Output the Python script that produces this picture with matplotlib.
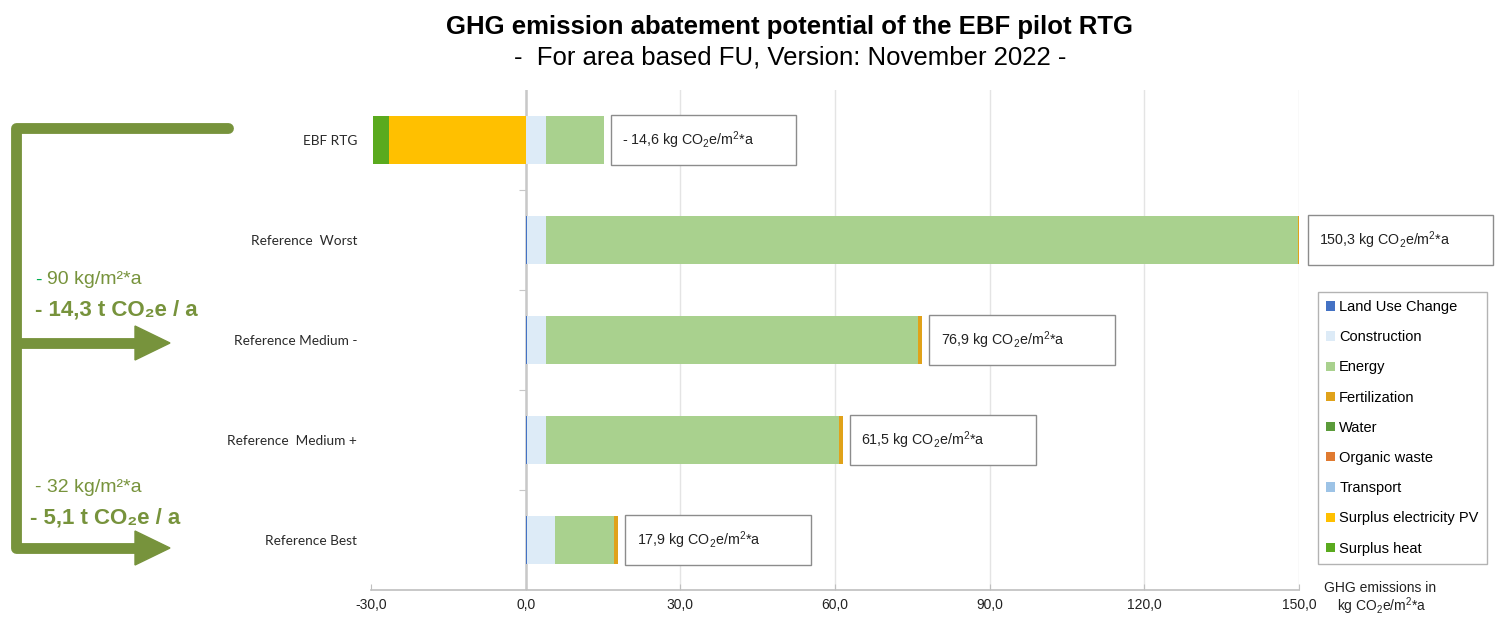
import matplotlib
matplotlib.use('Agg')
import matplotlib.pyplot as plt
from matplotlib.patches import Rectangle, Polygon
import numpy as np

plt.rcParams['font.family'] = ['Liberation Sans', 'DejaVu Sans']
plt.rcParams['mathtext.fontset'] = 'custom'
plt.rcParams['mathtext.rm'] = 'Liberation Sans'
plt.rcParams['mathtext.it'] = 'Liberation Sans'

# categories, top to bottom
categories = ["EBF RTG", "Reference  Worst", "Reference Medium -",
              "Reference  Medium +", "Reference Best"]

# emissions per source in kg CO2e/m2*a
land_use = [0.0, 0.3, 0.3, 0.3, 0.3]
construction = [3.9, 3.6, 3.6, 3.6, 5.4]
energy = [11.2, 145.9, 72.2, 56.8, 11.4]
fertilization = [0.0, 0.5, 0.8, 0.8, 0.8]
water = [0.0, 0.0, 0.0, 0.0, 0.0]
organic_waste = [0.0, 0.0, 0.0, 0.0, 0.0]
transport = [0.0, 0.0, 0.0, 0.0, 0.0]
surplus_pv = [-26.5, 0.0, 0.0, 0.0, 0.0]
surplus_heat = [-3.2, 0.0, 0.0, 0.0, 0.0]

x_ticks = [-30, 0, 30, 60, 90, 120, 150]

series = [
    ("Land Use Change", land_use, "#4472C4"),
    ("Construction", construction, "#DDEBF7"),
    ("Energy", energy, "#A9D18E"),
    ("Fertilization", fertilization, "#E0A21A"),
    ("Water", water, "#5B9B3A"),
    ("Organic waste", organic_waste, "#E07A30"),
    ("Transport", transport, "#9DC3E6"),
    ("Surplus electricity PV", surplus_pv, "#FFC000"),
    ("Surplus heat", surplus_heat, "#5AAA1E"),
]

W, H = 1499, 619
fig = plt.figure(figsize=(W / 100, H / 100), dpi=100)

# main chart area
ax = fig.add_axes([371 / W, 1 - 590 / H, 928 / W, 500 / H])
y = np.arange(len(categories))
pos_left = np.zeros(len(categories))
neg_left = np.zeros(len(categories))
for name, vals, col in series:
    vals = np.array(vals)
    left = np.where(vals >= 0, pos_left, neg_left)
    ax.barh(y, vals, left=left, height=0.48, color=col, label=name, zorder=3)
    pos_left += np.clip(vals, 0, None)
    neg_left += np.clip(vals, None, 0)

totals = pos_left + neg_left

ax.set_xlim(-30, 150)
ax.set_ylim(len(categories) - 0.5, -0.5)
ax.set_yticks(y)
ax.set_yticklabels(categories, family=['Lato', 'DejaVu Sans'], fontsize=9.8,
                   color='#2A2A2A')
ax.tick_params(axis='y', length=0, pad=10)
ax.set_xticks(x_ticks)
ax.set_xticklabels([f"{v:.1f}".replace('.', ',') for v in x_ticks],
                   fontsize=10, color='#222222')
ax.tick_params(axis='x', direction='in', length=4, color='#BFBFBF', pad=6)

for s in ['top', 'right', 'left']:
    ax.spines[s].set_visible(False)
ax.spines['bottom'].set_color('#BFBFBF')
ax.spines['bottom'].set_linewidth(1.2)

ax.grid(axis='x', color='#E4E4E4', lw=1, zorder=0)
ax.xaxis.get_gridlines()[0].set_visible(False)
ax.set_axisbelow(True)

# category axis at zero with separator ticks
ax.axvline(0, color='#C8C8C8', lw=1.8, zorder=2)
ax.hlines(y[:-1] + 0.5, -1.2, 0, color='#C8C8C8', lw=0.8, zorder=2)

# total value boxes
for yi, tot, pos in zip(y, totals, pos_left):
    x0 = pos + 1.4
    ax.add_patch(Rectangle((x0, yi - 0.25), 36, 0.5, facecolor='white',
                           edgecolor='#8C8C8C', lw=1, zorder=4, clip_on=False))
    txt = f"{abs(tot):.1f}".replace('.', ',')
    if tot < 0:
        txt = "- " + txt
    ax.text(x0 + 2.2, yi, txt + " kg CO$_2$e/m$^2$*a", va='center',
            ha='left', fontsize=10.3, color='#222222', zorder=5)

fig.legend(loc='upper left', bbox_to_anchor=(1318 / W, 1 - 292 / H),
           fontsize=10.5, frameon=True, fancybox=False, edgecolor='#A0A0A0',
           handlelength=0.6, handleheight=0.6, handletextpad=0.3,
           labelspacing=1.11, borderpad=0.55, borderaxespad=0)

fig.text(1380 / W, 1 - 588 / H, "GHG emissions in", ha='center',
         va='center', fontsize=10, color='#222222')
fig.text(1382 / W, 1 - 606 / H, "kg CO$_2$e/m$^2$*a", ha='center',
         va='center', fontsize=10, color='#222222')

fig.text(790 / W, 1 - 27 / H, "GHG emission abatement potential of the EBF pilot RTG",
         ha='center', va='center', fontsize=18.5, fontweight='bold')
fig.text(790 / W, 1 - 57 / H, "-  For area based FU, Version: November 2022 -",
         ha='center', va='center', fontsize=18.5)

# savings bracket on the left
ov = fig.add_axes([0, 0, 1, 1], zorder=-1)
ov.set_xlim(0, W)
ov.set_ylim(H, 0)
ov.axis('off')
olive = '#77933C'
ov.plot([228, 16, 16, 140], [128, 128, 548, 548], color=olive, lw=7.8,
        solid_capstyle='round', solid_joinstyle='round')
ov.plot([16, 140], [343, 343], color=olive, lw=7.8, solid_capstyle='butt')
for ya in (343, 548):
    ov.add_patch(Polygon([(135, ya - 17), (170, ya), (135, ya + 17)],
                         closed=True, color=olive))

ov.text(35, 280, "-", color='#00B050', fontsize=14, va='center')
ov.text(47, 280, "90 kg/m²*a", color=olive, fontsize=14, va='center')
ov.text(35, 310, "- 14,3 t CO₂e / a", color=olive, fontsize=16,
        fontweight='bold', va='center')
ov.text(35, 487, "- 32 kg/m²*a", color=olive, fontsize=14, va='center')
ov.text(30, 518, "- 5,1 t CO₂e / a", color=olive, fontsize=16,
        fontweight='bold', va='center')

fig.savefig('out.png', dpi=100)
